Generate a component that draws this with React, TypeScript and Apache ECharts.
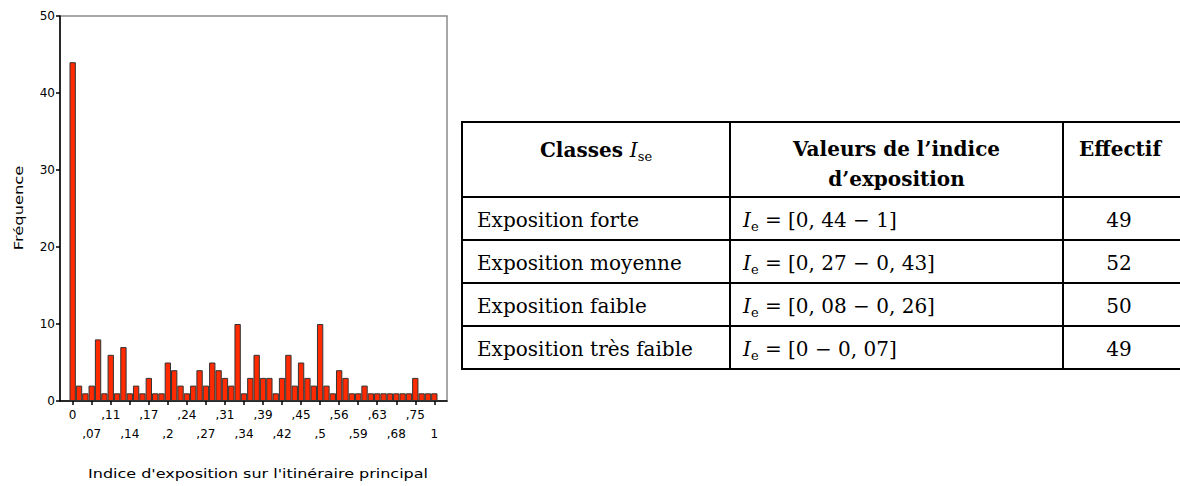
import React, { useEffect, useRef } from "react";
import * as echarts from "echarts";

// Histogram: frequency of each index bin (58 bins)
const frequencies = [
  44, 2, 1, 2, 8, 1, 6, 1, 7, 1,
  2, 1, 3, 1, 1, 5, 4, 2, 1, 2,
  4, 2, 5, 4, 3, 2, 10, 1, 3, 6,
  3, 3, 1, 3, 6, 2, 5, 3, 2, 10,
  2, 1, 4, 3, 1, 1, 2, 1, 1, 1,
  1, 1, 1, 1, 3, 1, 1, 1,
];
// labels shown under every third bin
const tickLabels = [
  "0", ",07", ",11", ",14", ",17", ",2", ",24", ",27", ",31", ",34",
  ",39", ",42", ",45", ",5", ",56", ",59", ",63", ",68", ",75", "1",
];
const binNames = frequencies.map((_, i) => "b" + i);
const yMin = 0;
const yMax = 50;
const yStep = 10;
const xTitle = "Indice d'exposition sur l'itinéraire principal";
const yTitle = "Fréquence";

// Table
const headerClasses = "Classes ";
const headerValues = ["Valeurs de l’indice", "d’exposition"];
const headerCount = "Effectif";
const classLabels = ["Exposition forte", "Exposition moyenne", "Exposition faible", "Exposition très faible"];
const indexRanges = ["[0, 44 − 1]", "[0, 27 − 0, 43]", "[0, 08 − 0, 26]", "[0 − 0, 07]"];
const counts = [49, 52, 50, 49];

const SERIF = "'DejaVu Serif', serif";
const SANS = "'DejaVu Sans', sans-serif";

function buildTable(): any[] {
  const L = 462, C1 = 730, C2 = 1063, R = 1182;
  const T = 122, H = 197, RH = 43;
  const B = H + RH * classLabels.length;
  const els: any[] = [];
  const lineStyle = { stroke: "#000", lineWidth: 2 };
  const ys = [T, H];
  classLabels.forEach((_, i) => ys.push(H + RH * (i + 1)));
  ys.forEach((y) => els.push({ type: "line", shape: { x1: L - 1, y1: y, x2: R, y2: y }, style: lineStyle }));
  [L, C1, C2].forEach((x) => els.push({ type: "line", shape: { x1: x, y1: T, x2: x, y2: B }, style: lineStyle }));

  const baseRich = {
    b: { fontFamily: SERIF, fontSize: 20, fontWeight: "bold", lineHeight: 26, fill: "#000" },
    r: { fontFamily: SERIF, fontSize: 20, lineHeight: 26, fill: "#000" },
    i: { fontFamily: SERIF, fontSize: 20, fontStyle: "italic", lineHeight: 26, fill: "#000" },
    s: { fontFamily: SERIF, fontSize: 13, lineHeight: 13, verticalAlign: "bottom", fill: "#000" },
  };
  const txt = (x: number, y: number, text: string, align: string) => ({
    type: "text",
    x,
    y,
    style: {
      text,
      rich: baseRich,
      font: `20px ${SERIF}`,
      fill: "#000",
      align,
      textAlign: align,
      verticalAlign: "middle",
      textVerticalAlign: "middle",
    },
  });
  els.push(txt((L + C1) / 2, 150, `{b|${headerClasses}}{i|I}{s|se}`, "center"));
  els.push(txt((C1 + C2) / 2, 149, `{b|${headerValues[0]}}`, "center"));
  els.push(txt((C1 + C2) / 2, 179, `{b|${headerValues[1]}}`, "center"));
  els.push(txt(1120, 149, `{b|${headerCount}}`, "center"));
  classLabels.forEach((lab, k) => {
    const cy = H + RH * k + RH / 2 + 1;
    els.push(txt(L + 15, cy, `{r|${lab}}`, "left"));
    els.push(txt(C1 + 13, cy, `{i|I}{s|e}{r| = ${indexRanges[k]}}`, "left"));
    els.push(txt(1119, cy, `{r|${counts[k]}}`, "center"));
  });
  return els;
}

function buildTitles(): any[] {
  const st = (text: string) => ({
    text,
    font: `13px ${SANS}`,
    fill: "#000",
    align: "center",
    textAlign: "center",
    verticalAlign: "middle",
    textVerticalAlign: "middle",
  });
  return [
    { type: "text", x: 258, y: 473, scaleX: 1.23, style: st(xTitle) },
    { type: "text", x: 18, y: 208, rotation: Math.PI / 2, scaleX: 1.25, style: st(yTitle) },
  ];
}

export default function App() {
  const ref = useRef<HTMLDivElement>(null);
  useEffect(() => {
    if (!ref.current) return;
    const chart = echarts.init(ref.current, undefined, { renderer: "svg" });
    const option: any = {
      animation: false,
      backgroundColor: "#fff",
      grid: [
        { left: 69.5, right: 742.5, top: 16, bottom: 85 },
        { left: 60, right: 733, top: 16, bottom: 85, show: true, borderColor: "#8a8a8a", borderWidth: 1.5, backgroundColor: "transparent" },
      ],
      xAxis: [
        {
          type: "category",
          gridIndex: 0,
          data: binNames,
          boundaryGap: true,
          axisLine: { show: false },
          axisTick: { show: true, interval: 2, alignWithLabel: true, length: 4, lineStyle: { color: "#000", width: 1.5 } },
          axisLabel: {
            interval: 2,
            margin: 4,
            fontFamily: SANS,
            fontSize: 12,
            color: "#000",
            lineHeight: 19,
            formatter: (_v: string, idx: number) => {
              const k = Math.round(idx / 3);
              const t = tickLabels[k] ?? "";
              return k % 2 === 1 ? "\n" + t : t;
            },
          },
          splitLine: { show: false },
        },
        {
          type: "value",
          gridIndex: 1,
          min: 0,
          max: 1,
          axisLine: { show: true, lineStyle: { color: "#000", width: 1.5 } },
          axisTick: { show: false },
          axisLabel: { show: false },
          splitLine: { show: false },
        },
      ],
      yAxis: [
        { type: "value", gridIndex: 0, min: yMin, max: yMax, interval: yStep, show: false },
        {
          type: "value",
          gridIndex: 1,
          min: yMin,
          max: yMax,
          interval: yStep,
          axisLine: { show: true, lineStyle: { color: "#000", width: 1.5 } },
          axisTick: { show: true, length: 4, lineStyle: { color: "#000", width: 1.5 } },
          axisLabel: { margin: 5, fontFamily: SANS, fontSize: 12, color: "#000" },
          splitLine: { show: false },
        },
      ],
      series: [
        {
          type: "bar",
          xAxisIndex: 0,
          yAxisIndex: 0,
          data: frequencies,
          barWidth: "100%",
          barCategoryGap: "0%",
          itemStyle: { color: "#ff2a00", borderColor: "#333", borderWidth: 1 },
          z: 3,
        },
      ],
      graphic: [...buildTable(), ...buildTitles()],
    };
    chart.setOption(option);
    return () => chart.dispose();
  }, []);
  return (
    <div
      ref={ref}
      style={{ position: "absolute", left: 0, top: 0, width: 1180, height: 486, background: "#fff" }}
    />
  );
}
